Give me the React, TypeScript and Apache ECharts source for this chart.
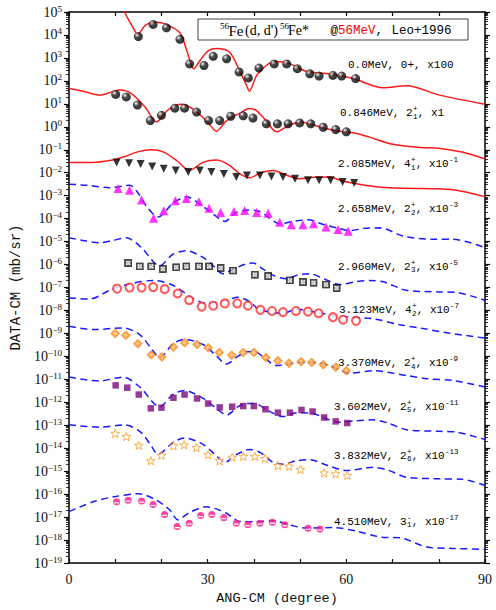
import React, { useEffect, useRef } from "react";
import * as echarts from "echarts";

// ---------- data: [angle (deg), log10(dσ/dΩ in mb/sr, scaled)] ----------
// 0.0 MeV 0+ (x100)
const exp0 = [[15,3.93],[18.2,4.46],[21.1,4.31],[24,3.81],[26.1,2.74],[29.2,2.67],[31.2,3.07],[34.1,2.96],[36.8,2.39],[38.8,2.13],[41.1,2.56],[44.4,2.74],[47.1,2.74],[49.4,2.53],[52.1,2.31],[54.1,2.21],[57.1,2.24],[59,2.21],[62,2.10]];
const th0 = [[11.5,5.3],[12,5.0],[13.5,4.45],[14.9,4.03],[16.5,4.42],[18.9,4.55],[21,4.46],[24,4.1],[25.4,3.38],[27,2.53],[28.3,2.88],[30.1,3.31],[31.9,3.41],[34.8,3.24],[37,2.39],[38.4,1.81],[39,1.55],[40.6,2.24],[42.7,2.67],[44.5,2.84],[47.8,2.74],[51.4,2.41],[56.4,2.31],[61.5,2.10],[68,1.70],[73,1.79],[80.2,1.38],[90,0.98]];
// 0.846 MeV 2+1 (x1)
const exp1 = [[10.1,1.41],[12.4,1.30],[14.8,0.95],[17.6,0.27],[20,0.50],[22.9,0.81],[25,0.81],[27.6,0.64],[30.2,0.27],[32.6,0.27],[35,0.46],[37.7,0.48],[39.8,0.38],[42.7,0.13],[45.1,0.13],[47.4,0.13],[49.9,0.17],[52.3,0.13],[55,-0.02],[57.7,-0.12],[60,-0.22]];
const th1 = [[0,1.67],[3,1.55],[6.6,1.38],[11,1.60],[13.5,1.45],[16.5,0.85],[18.9,0.21],[21.5,0.75],[24.3,0.98],[27,0.75],[30,0.2],[31.9,-0.19],[34,0.25],[37,0.6],[39,0.8],[40.5,0.72],[42.5,0.3],[44.9,-0.22],[47.5,0.05],[50,0.21],[55,-0.05],[58.6,-0.19],[62,-0.28],[65,-0.45],[70,-0.76],[76,-0.90],[80,-0.93],[85,-1.1],[90,-1.40]];
// 2.085 MeV 4+1 (x1e-1)
const exp2 = [[10.3,-1.55],[13,-1.59],[15.5,-1.62],[18,-1.73],[20.5,-1.83],[23.1,-1.90],[25.8,-1.97],[28.3,-1.90],[30.8,-1.97],[33.5,-2.05],[36.2,-2.19],[38.5,-2.12],[41.3,-2.12],[43.8,-2.16],[46.3,-2.19],[48.9,-2.26],[51.7,-2.33],[54.1,-2.33],[56.6,-2.33],[59.2,-2.40],[61.7,-2.45]];
const th2 = [[0,-1.55],[5,-1.55],[8.8,-1.47],[12,-1.3],[15,-1.08],[17.8,-1.0],[20.5,-1.1],[23.5,-1.5],[26,-1.90],[29,-1.55],[31.9,-1.45],[34.5,-1.65],[37,-2.05],[39.1,-2.22],[41.5,-2.0],[44.2,-1.90],[47,-2.1],[49.9,-2.26],[53,-2.2],[56.4,-2.19],[59,-2.35],[62.2,-2.48],[66,-2.6],[69.4,-2.65],[76.6,-2.69],[80,-2.7],[83.9,-2.76],[90,-3.04]];
// 2.658 MeV 2+2 (x1e-3)
const exp3 = [[10.6,-2.69],[13.1,-2.76],[15.7,-3.19],[18.3,-3.98],[20.5,-3.65],[23,-3.22],[25.4,-3.12],[28.1,-3.26],[30.3,-3.55],[32.8,-3.73],[35.7,-3.69],[38,-3.64],[40.6,-3.73],[43.1,-3.76],[45.6,-4.16],[48.1,-4.26],[50.6,-4.26],[52.9,-4.22],[55.6,-4.36],[58.2,-4.47],[60.4,-4.55]];
const th3 = [[0,-2.50],[4,-2.55],[8.8,-2.65],[13.1,-2.55],[15,-2.9],[16.8,-3.47],[19.3,-3.93],[22.5,-3.33],[25.4,-3.05],[29,-3.47],[31.5,-3.85],[33.7,-4.12],[36,-3.75],[38.4,-3.62],[41.3,-3.69],[43.5,-4.0],[45.6,-4.22],[48.5,-4.12],[51.7,-4.05],[55,-4.25],[57.9,-4.40],[60.8,-4.52],[64,-4.42],[67.3,-4.40],[72.3,-4.76],[78.8,-4.90],[83.1,-4.90],[90,-5.26]];
// 2.960 MeV 2+3 (x1e-5)
const exp4 = [[12.8,-5.93],[15.3,-6.08],[17.8,-6.08],[20.3,-6.19],[23.2,-6.12],[25.4,-6.08],[28.1,-6.08],[30.3,-6.08],[32.8,-6.15],[35.5,-6.26],[40.2,-6.44],[43.1,-6.50],[47.8,-6.69],[50.6,-6.76],[52.9,-6.79],[55.6,-6.87],[57.9,-7.02]];
const th4 = [[0,-4.83],[3,-4.95],[6.6,-5.05],[9.5,-4.95],[12.4,-4.83],[14.5,-5.05],[16,-5.33],[19.6,-6.05],[22.5,-5.55],[25.4,-5.40],[29,-5.69],[31.2,-6.05],[33.3,-6.40],[35.5,-6.2],[38.4,-5.97],[39.8,-5.93],[42,-6.2],[44.2,-6.47],[47,-6.62],[49.5,-6.45],[52.1,-6.40],[55.5,-6.65],[58.6,-6.87],[62,-6.75],[65.1,-6.69],[68,-6.75],[73,-7.12],[80.2,-7.19],[84,-7.22],[90,-7.55]];
// 3.123 MeV 4+2 (x1e-7)
const exp5 = [[10.4,-7.05],[13.1,-7.0],[15.7,-7.0],[18.2,-6.98],[20.7,-7.07],[23.5,-7.26],[26,-7.55],[28.7,-7.83],[31.2,-7.79],[33.7,-7.69],[36.4,-7.69],[38.7,-7.79],[41.4,-7.97],[43.9,-8.02],[46.3,-8.07],[49.1,-8.02],[51.7,-8.05],[54,-8.12],[57.1,-8.29],[59.3,-8.40],[62.1,-8.45]];
const th5 = [[0,-7.45],[4.5,-7.50],[8.8,-7.12],[13,-6.85],[18.2,-6.69],[22.5,-6.90],[26.8,-7.47],[29.7,-7.69],[34.1,-7.55],[36.5,-7.42],[39,-7.6],[41.3,-7.97],[46.3,-8.12],[49.2,-7.94],[54.5,-8.12],[58.6,-8.26],[65.8,-8.36],[71.6,-8.62],[75.9,-8.76],[81.7,-8.97],[90,-9.2]];
// 3.370 MeV 2+4 (x1e-9)
const exp6 = [[10,-9.0],[12.3,-9.08],[14.9,-9.45],[17.8,-9.93],[20.1,-10.02],[22.6,-9.59],[25,-9.40],[27.7,-9.48],[30.1,-9.62],[32.5,-9.83],[35.2,-9.95],[37.7,-9.83],[40,-9.83],[42.6,-10.05],[45.2,-10.19],[47.6,-10.30],[50.2,-10.23],[52.5,-10.26],[55,-10.36],[57.7,-10.47],[60,-10.62]];
const th6 = [[0,-8.69],[5.2,-8.83],[11.7,-8.76],[15.3,-9.05],[18.2,-9.76],[19.6,-10.05],[22.5,-9.45],[25,-9.26],[29,-9.48],[31.5,-9.9],[34.1,-10.33],[36.5,-10.0],[38.4,-9.80],[40,-9.78],[42.5,-10.1],[44.9,-10.40],[47,-10.35],[49.9,-10.26],[52.8,-10.26],[56.4,-10.40],[60.8,-10.73],[65.8,-10.62],[73,-10.83],[77.4,-10.97],[83.1,-11.05],[90,-11.33]];
// 3.602 MeV 2+5 (x1e-11)
const exp7 = [[10.1,-11.26],[12.6,-11.36],[15.1,-11.66],[17.7,-12.26],[20,-12.23],[22.6,-11.80],[25,-11.66],[27.7,-11.83],[30.1,-12.05],[32.6,-12.22],[35.3,-12.19],[37.7,-12.16],[40,-12.16],[42.5,-12.30],[45.2,-12.45],[47.8,-12.45],[50.3,-12.33],[52.7,-12.40],[55.2,-12.66],[57.7,-12.83],[60.2,-12.90]];
const th7 = [[0,-10.90],[6.6,-11.07],[11.7,-10.90],[15.3,-11.33],[19.6,-12.19],[22.5,-11.65],[25,-11.48],[29,-11.83],[31.5,-12.2],[34.1,-12.55],[36.5,-12.2],[38.4,-12.05],[40.2,-12.05],[43,-12.35],[46.3,-12.62],[49.5,-12.45],[52.8,-12.48],[55.5,-12.7],[58.6,-12.87],[62,-12.8],[65.8,-12.76],[69,-12.9],[73,-13.19],[80.2,-13.26],[84,-13.3],[90,-13.62]];
// 3.832 MeV 2+6 (x1e-13)
const exp8 = [[10,-13.36],[12.4,-13.50],[15.1,-13.88],[17.7,-14.55],[20,-14.31],[22.6,-13.90],[24.9,-13.86],[27.6,-13.98],[30.1,-14.29],[32.6,-14.55],[35.3,-14.40],[37.7,-14.36],[40.2,-14.36],[42.4,-14.45],[45.2,-14.76],[47.6,-14.79],[50.1,-14.93],[55.2,-15.08],[57.7,-15.12],[60.2,-15.19]];
const th8 = [[0,-12.98],[6.6,-13.08],[12,-12.98],[15.3,-13.26],[17.5,-13.8],[19.3,-14.26],[22.5,-13.75],[25,-13.55],[29,-13.83],[31.5,-14.25],[33.7,-14.62],[36,-14.3],[39.1,-14.05],[41.5,-14.2],[44.2,-14.62],[46.5,-14.69],[49,-14.55],[52.1,-14.50],[56,-14.75],[60,-14.97],[65.8,-14.83],[69,-14.95],[73,-15.26],[80.2,-15.33],[85,-15.35],[90,-15.62]];
// 4.510 MeV 3-1 (x1e-17)
const exp9 = [[10.3,-16.33],[12.8,-16.26],[15.7,-16.30],[18.2,-16.45],[20.7,-16.88],[23.4,-17.41],[26,-17.26],[28.5,-16.93],[30.9,-16.88],[33.5,-17.02],[36.2,-17.26],[38.7,-17.33],[41.3,-17.26],[44,-17.22],[46.7,-17.33],[51.7,-17.48],[54.3,-17.52]];
const th9 = [[0,-16.76],[5.2,-16.33],[9.5,-16.12],[15,-15.98],[18.9,-16.26],[21.8,-16.69],[23.6,-17.12],[26,-16.8],[29.7,-16.55],[32,-16.65],[34.1,-16.83],[37,-17.19],[40,-17.2],[44.2,-17.16],[48,-17.35],[51.4,-17.48],[57.1,-17.45],[62,-17.6],[68,-17.88],[71.6,-17.90],[77.4,-18.30],[83.1,-18.36],[90,-18.40]];

// axis ranges / tick labels
const xRange = [0, 90];
const xLabelValues = [0, 30, 60, 90];
const yExpRange = [-19, 5];

// level annotation texts: [main, sup, sub, post, power]
const levelTexts = [
  ["0.0MeV, 0+, x100", "", "", "", ""],
  ["0.846MeV, 2", "+", "1", ", x1", ""],
  ["2.085MeV, 4", "+", "1", ", x10", "-1"],
  ["2.658MeV, 2", "+", "2", ", x10", "-3"],
  ["2.960MeV, 2", "+", "3", ", x10", "-5"],
  ["3.123MeV, 4", "+", "2", ", x10", "-7"],
  ["3.370Mev, 2", "+", "4", ", x10", "-9"],
  ["3.602MeV, 2", "+", "5", ", x10", "-11"],
  ["3.832MeV, 2", "+", "6", ", x10", "-13"],
  ["4.510MeV, 3", "-", "1", ", x10", "-17"],
];
const levelTextPos = [[348,65],[340,113],[338,164],[338,209],[338,266.5],[339,310],[338,363],[334,406.5],[334,455.5],[334,521.5]];

const MONO = '"Liberation Mono", "DejaVu Sans Mono", monospace';
const SERIF = '"Liberation Serif", "DejaVu Serif", serif';

function svgSymbol(svg: string) {
  return "image://data:image/svg+xml;charset=utf-8," + encodeURIComponent(svg);
}

const squareImg = svgSymbol(
  "<svg xmlns='http://www.w3.org/2000/svg' width='10' height='10' viewBox='0 0 10 10'>" +
  "<rect x='0.5' y='0.5' width='9' height='9' fill='#1e1e1e' stroke='#000' stroke-width='1'/>" +
  "<rect x='2.2' y='2.2' width='5.6' height='5.6' fill='#9a9a9a'/>" +
  "<circle cx='3.3' cy='3.3' r='0.9' fill='#fff'/><circle cx='6.7' cy='3.3' r='0.9' fill='#fff'/>" +
  "<circle cx='5' cy='5' r='0.9' fill='#fff'/><circle cx='3.3' cy='6.7' r='0.9' fill='#fff'/><circle cx='6.7' cy='6.7' r='0.9' fill='#fff'/></svg>"
);
const diamondImg = svgSymbol(
  "<svg xmlns='http://www.w3.org/2000/svg' width='12' height='12' viewBox='0 0 12 12'>" +
  "<polygon points='6,0.6 11.4,6 6,11.4 0.6,6' fill='#ff8a14' stroke='#f27400' stroke-width='0.8'/>" +
  "<polygon points='6,3.4 8.6,6 6,8.6 3.4,6' fill='#ffc47a'/></svg>"
);
const starImg = svgSymbol(
  "<svg xmlns='http://www.w3.org/2000/svg' width='12' height='12' viewBox='0 0 12 12'>" +
  "<polygon points='6,0.8 7.35,4.44 11.23,4.6 8.19,7.01 9.23,10.75 6,8.6 2.77,10.75 3.81,7.01 0.77,4.6 4.65,4.44' fill='#fff' stroke='#ff8c00' stroke-width='1.1' stroke-linejoin='round'/></svg>"
);
const pinkImg = svgSymbol(
  "<svg xmlns='http://www.w3.org/2000/svg' width='10' height='10' viewBox='0 0 10 10'>" +
  "<circle cx='5' cy='5' r='4.4' fill='#ff1a8c'/>" +
  "<rect x='2' y='5.5' width='6' height='1.5' fill='#fff'/></svg>"
);

const sphere = {
  type: "radial", x: 0.35, y: 0.32, r: 0.7,
  colorStops: [
    { offset: 0, color: "#ffffff" },
    { offset: 0.14, color: "#a8a8a8" },
    { offset: 0.42, color: "#1a1a1a" },
    { offset: 1, color: "#000000" },
  ],
};

const RED = "#ff1a1a";
const BLUE = "#1a1aff";

const levels: any[] = [
  { th: th0, exp: exp0, dashed: false, symbol: "circle", size: 9, item: { color: sphere } },
  { th: th1, exp: exp1, dashed: false, symbol: "circle", size: 9, item: { color: sphere } },
  { th: th2, exp: exp2, dashed: false, symbol: "triangle", rotate: 180, size: 8, item: { color: "#000" } },
  { th: th3, exp: exp3, dashed: true, symbol: "triangle", size: 9, item: { color: "#ff00ff" } },
  { th: th4, exp: exp4, dashed: true, symbol: squareImg, size: 8, item: {} },
  { th: th5, exp: exp5, dashed: true, symbol: "emptyCircle", size: 8, item: { color: "#ff3030", borderWidth: 1.2 } },
  { th: th6, exp: exp6, dashed: true, symbol: diamondImg, size: 10, item: {} },
  { th: th7, exp: exp7, dashed: true, symbol: "rect", size: 6.5, item: { color: "#7d087d" } },
  { th: th8, exp: exp8, dashed: true, symbol: starImg, size: 10, item: {} },
  { th: th9, exp: exp9, dashed: true, symbol: pinkImg, size: 8, item: {} },
];

function supText(e: number) {
  return e < 0 ? "\u2212" + String(-e) : String(e);
}

export default function App() {
  const ref = useRef<HTMLDivElement>(null);

  useEffect(() => {
    if (!ref.current) return;
    const chart = echarts.init(ref.current, undefined, { renderer: "svg" });

    const canvas = document.createElement("canvas");
    const ctx = canvas.getContext("2d")!;
    const tw = (t: string, size: number, fam: string) => {
      ctx.font = `${size}px ${fam}`;
      return ctx.measureText(t).width;
    };

    const FS = 11;
    const SS = 7.5;
    const graphics: any[] = [];
    const txt = (x: number, y: number, text: string, size: number, fam: string, fill = "#000") => ({
      type: "text", x, y, z: 100,
      style: { text, fontSize: size, fontFamily: fam, fill, verticalAlign: "middle", align: "left" },
    });

    levelTexts.forEach((lt, i) => {
      const [main, sup, sub, post, pow] = lt;
      const [x0, y0] = levelTextPos[i];
      let cx = x0;
      graphics.push(txt(cx, y0, main, FS, MONO));
      cx += tw(main, FS, MONO);
      if (sup || sub) {
        graphics.push(txt(cx + 0.3, y0 - 4, sup, SS, MONO));
        graphics.push(txt(cx + 0.3, y0 + 3.6, sub, SS, MONO));
        cx += Math.max(tw(sup, SS, MONO), tw(sub, SS, MONO)) + 0.6;
      }
      if (post) {
        graphics.push(txt(cx, y0, post, FS, MONO));
        cx += tw(post, FS, MONO);
      }
      if (pow) graphics.push(txt(cx + 0.3, y0 - 4, pow, SS, MONO));
    });

    // title box
    graphics.push({
      type: "rect", z: 99,
      shape: { x: 198, y: 19, width: 270, height: 21 },
      style: { fill: "#fff", stroke: "#444", lineWidth: 1 },
    });
    graphics.push(txt(220, 25.5, "56", 9, SERIF));
    graphics.push(txt(228.5, 30.5, "Fe", 15, SERIF));
    graphics.push(txt(245, 30.5, "(d, d')", 14, SERIF));
    graphics.push(txt(280, 25.5, "56", 9, SERIF));
    graphics.push(txt(288, 30.5, "Fe*", 14, SERIF));
    graphics.push(txt(330.5, 30.5, "@", 12.5, MONO));
    graphics.push(txt(338, 30.5, "56MeV", 12.5, MONO, "#ff0000"));
    graphics.push(txt(375.5, 30.5, ",", 12.5, MONO));
    graphics.push(txt(391.5, 30.5, "Leo+1996", 12.5, MONO));

    const minorVals: number[] = [];
    for (let n = yExpRange[0]; n < yExpRange[1]; n++) {
      for (let k = 2; k <= 9; k++) minorVals.push(n + Math.log10(k));
    }

    const series: any[] = [];
    levels.forEach((lv, i) => {
      series.push({
        type: "line", name: "th" + i, data: lv.th, xAxisIndex: 0, yAxisIndex: 0,
        showSymbol: false, symbol: "none", smooth: 0.3, clip: true, z: 2,
        lineStyle: { color: lv.dashed ? BLUE : RED, width: 1.5, type: lv.dashed ? [7, 4.5] : "solid" },
        silent: true,
      });
      series.push({
        type: "scatter", name: "exp" + i, data: lv.exp, xAxisIndex: 0, yAxisIndex: 0,
        symbol: lv.symbol, symbolSize: lv.size, symbolRotate: lv.rotate || 0, z: 3,
        itemStyle: lv.item, silent: true,
      });
    });

    const axisLine = { show: true, onZero: false, lineStyle: { color: "#000", width: 1.5 } };

    chart.setOption({
      animation: false,
      backgroundColor: "#fff",
      grid: { left: 69, right: 11, top: 12, bottom: 37, containLabel: false },
      xAxis: [
        {
          type: "value", min: xRange[0], max: xRange[1], interval: 10, position: "bottom",
          axisLine, splitLine: { show: false },
          axisTick: { inside: true, length: 4, lineStyle: { color: "#000", width: 1.2 } },
          axisLabel: {
            margin: 9, fontFamily: SERIF, fontSize: 14, color: "#111",
            formatter: (v: number) => (xLabelValues.includes(v) ? String(v) : ""),
          },
          name: "ANG-CM (degree)", nameLocation: "middle", nameGap: 23,
          nameTextStyle: { fontFamily: MONO, fontSize: 13.5, color: "#111" },
        },
        {
          type: "value", min: xRange[0], max: xRange[1], interval: 10, position: "top",
          axisLine, splitLine: { show: false },
          axisTick: { inside: true, length: 4, lineStyle: { color: "#000", width: 1.2 } },
          axisLabel: { show: false },
        },
      ],
      yAxis: [
        {
          type: "value", min: yExpRange[0], max: yExpRange[1], interval: 1, position: "left",
          axisLine, splitLine: { show: false },
          axisTick: { inside: false, length: 5, lineStyle: { color: "#000", width: 1.2 } },
          axisLabel: {
            margin: 7,
            formatter: (v: number) => `{b|10}{s|${supText(Math.round(v))}}`,
            rich: {
              b: { fontFamily: SERIF, fontSize: 14, color: "#111", lineHeight: 16 },
              s: { fontFamily: SERIF, fontSize: 9, color: "#111", verticalAlign: "top", lineHeight: 10 },
            },
          },
          name: "DATA-CM (mb/sr)", nameLocation: "middle", nameGap: 30, nameRotate: 90,
          nameTextStyle: { fontFamily: MONO, fontSize: 14, color: "#111" },
        },
        {
          type: "value", min: yExpRange[0], max: yExpRange[1], interval: 1, position: "right",
          axisLine, splitLine: { show: false },
          axisTick: { inside: false, length: 5, lineStyle: { color: "#000", width: 1.2 } },
          axisLabel: { show: false },
        },
        {
          type: "value", min: yExpRange[0], max: yExpRange[1], interval: 1, position: "left",
          axisLine: { show: false, onZero: false }, splitLine: { show: false },
          axisTick: { inside: false, length: 3, customValues: minorVals, lineStyle: { color: "#000", width: 0.8 } },
          axisLabel: { show: false },
        },
        {
          type: "value", min: yExpRange[0], max: yExpRange[1], interval: 1, position: "right",
          axisLine: { show: false, onZero: false }, splitLine: { show: false },
          axisTick: { inside: false, length: 3, customValues: minorVals, lineStyle: { color: "#000", width: 0.8 } },
          axisLabel: { show: false },
        },
      ],
      series,
      graphic: { elements: graphics },
    });

    return () => chart.dispose();
  }, []);

  return (
    <div
      ref={ref}
      style={{ position: "fixed", left: 0, top: 0, width: 496, height: 610, background: "#fff" }}
    />
  );
}
